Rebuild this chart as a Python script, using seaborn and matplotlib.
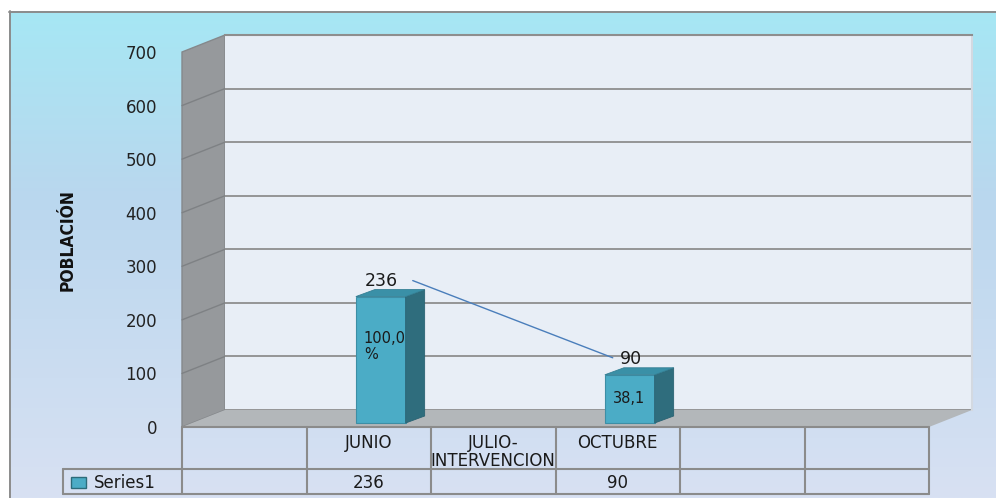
import numpy as np
import pandas as pd
import matplotlib
matplotlib.use("Agg")
import matplotlib.pyplot as plt
import seaborn as sns
from matplotlib.patches import Polygon, Rectangle
from matplotlib.transforms import IdentityTransform, offset_copy
from matplotlib import font_manager
from matplotlib.font_manager import FontProperties

# ---------------- data ----------------
categories = ["", "JUNIO", "JULIO-\nINTERVENCION", "OCTUBRE", "", ""]
values = [np.nan, 236, np.nan, 90, np.nan, np.nan]
pct_labels = ["", "100,0\n%", "", "38,1", "", ""]
series_name = "Series1"
y_ticks = [0, 100, 200, 300, 400, 500, 600, 700]
y_label = "POBLACIÓN"

W, H, DPI = 996, 498, 100

sns.set_theme(style="white")
plt.rcParams['font.family'] = ['DejaVu Sans']

# condensed bold font for the axis title, if available
title_fp = FontProperties(family="DejaVu Sans", weight="bold", stretch="condensed", size=12.5)
try:
    fpath = font_manager.findfont(title_fp, fallback_to_default=True)
    if "Condensed" not in fpath:
        title_fp = FontProperties(family="DejaVu Sans", weight="bold", size=11)
except Exception:
    title_fp = FontProperties(family="DejaVu Sans", weight="bold", size=11)

keys = [f"c{i}" for i in range(len(categories))]
df = pd.DataFrame({"key": keys, "valor": values}).dropna()

fig = plt.figure(figsize=(W / DPI, H / DPI), dpi=DPI)
fig.patch.set_facecolor("white")

# background axes in image-pixel coordinates
bg = fig.add_axes([0, 0, 1, 1], zorder=-5)
bg.set_xlim(0, W)
bg.set_ylim(H, 0)
bg.axis("off")
ys = np.array([11, 200, H], float)
cols = np.array([[166, 231, 244], [186, 215, 238], [216, 225, 243]], float) / 255
yy = np.linspace(11, H, 300)
grad = np.stack([np.interp(yy, ys, cols[:, c]) for c in range(3)], axis=-1)
grad = np.repeat(grad[:, None, :], 2, axis=1)
bg.imshow(grad, extent=(9, W, H, 11), aspect="auto", zorder=0, interpolation="bilinear")
bg.plot([9, W], [11.5, 11.5], color="#8C8C8C", lw=1.4, zorder=1)
bg.plot([9.5, 9.5], [11, H], color="#8C8C8C", lw=1.4, zorder=1)

# depth of the 3D box (pixels)
DX, DY = 43, 17
FL, FB, FW, FH = 182, 427, 747, 375  # front plane: left, bottom (image px), width, height

ax_back = fig.add_axes([(FL + DX) / W, (H - FB + DY) / H, FW / W, FH / H], zorder=0)
ax = fig.add_axes([FL / W, (H - FB) / H, FW / W, FH / H], zorder=2)

# back wall
ax_back.set_facecolor("#E8EEF6")
ax_back.set_xlim(-0.5, len(categories) - 0.5)
ax_back.set_ylim(0, 700)
ax_back.set_yticks(y_ticks)
ax_back.set_xticks([])
ax_back.tick_params(axis="y", length=0, labelleft=False)
ax_back.grid(axis="y", color="#8E8E8E", lw=1.3)
for s in ["left", "bottom"]:
    ax_back.spines[s].set_visible(False)
ax_back.spines["top"].set_color("#8E8E8E")
ax_back.spines["top"].set_linewidth(1.5)
ax_back.spines["right"].set_color("#D3D9E1")
ax_back.spines["right"].set_linewidth(1.5)

# bars (front plane axes)
sns.barplot(data=df, x="key", y="valor", order=keys, ax=ax, width=0.4,
            color="#4BACC6", saturation=1)
ax.set_facecolor("none")
ax.set_xlim(-0.5, len(categories) - 0.5)
ax.set_ylim(0, 700)
ax.set_yticks(y_ticks)
ax.set_yticklabels([str(v) for v in y_ticks], fontsize=12, color="#222222")
ax.tick_params(axis="y", length=0, pad=18)
ax.set_xticks([])
ax.set_xlabel("")
ax.set_ylabel("")
for s in ax.spines.values():
    s.set_visible(False)

def img(xd, yd):
    """data coords of front axes -> image pixel coords"""
    d = ax.transData.transform((xd, yd))
    return d[0], H - d[1]

# left wall and floor
x0f, y0f = img(-0.5, 0)
x1f, y1f = img(len(categories) - 0.5, 700)
bg.add_patch(Polygon([(x0f, y0f), (x0f, y1f), (x0f + DX, y1f - DY), (x0f + DX, y0f - DY)],
                     closed=True, facecolor="#96999C", edgecolor="#85888B", lw=1, zorder=2))
for v in y_ticks[1:-1]:
    _, yv = img(-0.5, v)
    bg.plot([x0f, x0f + DX], [yv, yv - DY], color="#7E8184", lw=1, zorder=3)
bg.add_patch(Polygon([(x0f, y0f), (x1f, y0f), (x1f + DX, y0f - DY), (x0f + DX, y0f - DY)],
                     closed=True, facecolor="#B3B7BA", edgecolor="none", zorder=2))

# 3D bar faces
BX, BY = 12, 4      # front face offset
SX, SY = 19, 7      # bar depth
ax_off = offset_copy(ax.transData, fig=fig, x=BX, y=BY, units="dots")
bars = [p for p in ax.patches if np.isfinite(p.get_height()) and p.get_height() > 0]
for p in bars:
    p.set_transform(ax_off)
    p.set_edgecolor("#3D8EA5")
    p.set_linewidth(0.8)
    xl, xr = p.get_x(), p.get_x() + p.get_width()
    h = p.get_height()
    a = ax.transData.transform((xl, 0)) + (BX, BY)
    b = ax.transData.transform((xr, h)) + (BX, BY)
    side = [(b[0], a[1]), (b[0] + SX, a[1] + SY), (b[0] + SX, b[1] + SY), (b[0], b[1])]
    top = [(a[0], b[1]), (a[0] + SX, b[1] + SY), (b[0] + SX, b[1] + SY), (b[0], b[1])]
    ax.add_patch(Polygon(side, closed=True, transform=IdentityTransform(), facecolor="#2F6D7D",
                         edgecolor="#2A6272", lw=0.6, clip_on=False, zorder=3))
    ax.add_patch(Polygon(top, closed=True, transform=IdentityTransform(), facecolor="#3A90A7",
                         edgecolor="#347F94", lw=0.6, clip_on=False, zorder=3))

# value labels, percent labels and leader line
pts = []
for i, v in enumerate(values):
    if not np.isfinite(v):
        continue
    ax.annotate(f"{int(v)}", (i, v), xytext=(13, 20), textcoords="offset pixels",
                ha="center", va="center", fontsize=12.5, color="#1a1a1a", zorder=5,
                annotation_clip=False)
    pts.append(ax.transData.transform((i, v)))
    lab = pct_labels[i]
    nl = lab.count("\n")
    xl = i - 0.2
    ax.annotate(lab, (xl, v / 2), xytext=(BX + 8, BY + 13 * nl), textcoords="offset pixels",
                ha="left", va="center", fontsize=10.5, color="#1a1a1a", linespacing=1.05,
                zorder=5, annotation_clip=False)
if len(pts) >= 2:
    p1, p2 = pts[0], pts[-1]
    ax.plot([p1[0] + 44, p2[0] - 5], [p1[1] + 20, p2[1] + 21], transform=IdentityTransform(),
            color="#4A7EBB", lw=1, clip_on=False, zorder=4)

# y axis title
fig.text(68 / W, 1 - 240 / H, y_label, rotation=90, ha="center", va="center",
         fontproperties=title_fp, color="#111111")

# data table
LC, LW = "#8B8B8B", 1.5
bnd = [img(k - 0.5, 0)[0] for k in range(len(categories) + 1)]
R0, R1, R2 = 427, 469, 494
LEG = 63
bg.plot([bnd[0], bnd[-1]], [R0, R0], color=LC, lw=LW, zorder=4)
bg.plot([LEG, bnd[-1]], [R1, R1], color=LC, lw=LW, zorder=4)
bg.plot([LEG, bnd[-1]], [R2, R2], color=LC, lw=LW, zorder=4)
bg.plot([LEG, LEG], [R1, R2], color=LC, lw=LW, zorder=4)
for xb in bnd:
    bg.plot([xb, xb], [R0, R2], color=LC, lw=LW, zorder=4)
for i, c in enumerate(categories):
    xc = img(i, 0)[0]
    if c:
        bg.text(xc, 434, c, ha="center", va="top", fontsize=12, color="#1a1a1a",
                linespacing=1.0, multialignment="center", zorder=5)
    if np.isfinite(values[i]):
        bg.text(xc, (R1 + R2) / 2 + 1, f"{int(values[i])}", ha="center", va="center",
                fontsize=12, color="#1a1a1a", zorder=5)
bg.add_patch(Rectangle((71, 477), 15, 11, facecolor="#4BACC6", edgecolor="#2C6B7A", lw=1, zorder=5))
bg.text(94, (R1 + R2) / 2 + 1, series_name, ha="left", va="center", fontsize=12,
        color="#1a1a1a", zorder=5)

fig.savefig("out.png", dpi=DPI, facecolor=fig.get_facecolor())
